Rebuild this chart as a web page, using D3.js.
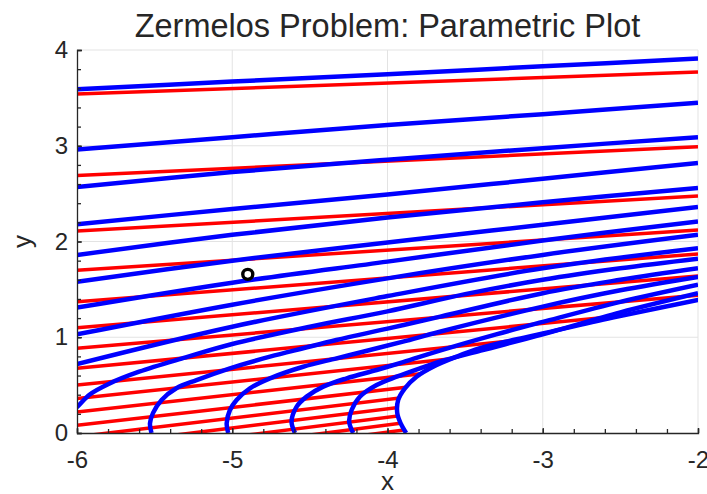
<!DOCTYPE html>
<html lang="en">
<head>
<meta charset="UTF-8">
<title>Zermelos Problem</title>
<script src="https://d3js.org/d3.v7.min.js"></script>
<style>
  body { margin: 0; background: #fff; }
  text { font-family: "Liberation Sans", Arial, sans-serif; fill: #262626; }
</style>
</head>
<body>
<div id="chart"></div>
<script>
// tick values
const xTicks = [-6, -5, -4, -3, -2];
const yTicks = [0, 1, 2, 3, 4];
const xMinor = d3.range(-6, -1.99, 0.2);
const yMinor = d3.range(0, 4.01, 0.2);

// red lines are straight: y at x = -6 and at x = -2
const redX = [-6, -2];
const redLeftY = [3.54, 2.69, 2.11, 1.70, 1.37, 1.10, 0.885, 0.675, 0.50, 0.36, 0.22, 0.08,
                  -0.039, -0.148, -0.246, -0.336, -0.421];
const redRightY = [3.77, 2.99, 2.475, 2.12, 1.87, 1.64, 1.44, 1.30, 1.16, 1.05, 0.94, 0.83,
                   0.741, 0.652, 0.574, 0.504, 0.439];

// upper blue lines, sampled at blueX
const blueX = [-6, -5, -4, -3, -2];
const blueUpper = [
  [3.59, 3.67, 3.746, 3.83, 3.91],
  [2.96, 3.09, 3.217, 3.33, 3.45],
  [2.57, 2.725, 2.855, 2.975, 3.09],
  [2.18, 2.34, 2.49, 2.655, 2.82],
  [1.86, 2.07, 2.25, 2.41, 2.56],
  [1.58, 1.80, 1.99, 2.175, 2.36],
  [1.31, 1.57, 1.79, 2.01, 2.21],
  [1.03, 1.34, 1.615, 1.86, 2.07],
  [0.72, 1.11, 1.43, 1.72, 1.93]
];

// lower blue curves that start on y = 0, as [x, y]
const blueB10 = [[-6.07, 0], [-6.085, 0.1], [-6.06, 0.2], [-6.0, 0.27], [-5.92, 0.40], [-5.8, 0.51],
  [-5.6, 0.64], [-5.3, 0.79], [-5.0, 0.93], [-4.5, 1.11], [-4.0, 1.27], [-3.5, 1.45], [-3.0, 1.60],
  [-2.5, 1.72], [-2.0, 1.82]];
const blueC1 = [[-5.52, 0], [-5.53, 0.1], [-5.51, 0.21], [-5.455, 0.345], [-5.36, 0.467], [-5.23, 0.553],
  [-5.015, 0.676], [-4.757, 0.797], [-4.543, 0.885], [-4.33, 0.971], [-4.0, 1.09], [-3.66, 1.215],
  [-3.0, 1.46], [-2.5, 1.60], [-2.0, 1.72]];
const blueC2 = [[-5.026, 0], [-5.036, 0.1], [-5.015, 0.24], [-4.972, 0.345], [-4.886, 0.467], [-4.757, 0.571],
  [-4.543, 0.692], [-4.328, 0.78], [-4.113, 0.867], [-3.9, 0.954], [-3.663, 1.058], [-3.0, 1.32],
  [-2.5, 1.49], [-2.0, 1.63]];
const blueC3 = [[-4.596, 0], [-4.618, 0.118], [-4.585, 0.275], [-4.521, 0.38], [-4.414, 0.484], [-4.263, 0.571],
  [-4.07, 0.658], [-3.899, 0.74], [-3.663, 0.86], [-3.3, 1.03], [-3.0, 1.16], [-2.5, 1.37], [-2.0, 1.55]];
const blueC4 = [[-4.221, 0], [-4.247, 0.118], [-4.231, 0.24], [-4.178, 0.379], [-4.07, 0.501], [-3.941, 0.588],
  [-3.791, 0.676], [-3.663, 0.745], [-3.4, 0.86], [-3.0, 1.03], [-2.5, 1.26], [-2.0, 1.46]];
const blueC5 = [[-3.88, 0], [-3.915, 0.1], [-3.937, 0.206], [-3.931, 0.345], [-3.888, 0.467], [-3.813, 0.588],
  [-3.706, 0.692], [-3.555, 0.797], [-3.405, 0.885], [-3.19, 0.971], [-3.0, 1.04], [-2.55, 1.205],
  [-2.0, 1.389], [-1.9, 1.42]];

// start marker
const startPoint = [-4.9, 1.657];

const width = 707, height = 494;
const margin = { top: 50, right: 9, bottom: 61, left: 77 };

const svg = d3.select("#chart").append("svg")
    .attr("width", width)
    .attr("height", height);

const x = d3.scaleLinear().domain([-6, -2]).range([margin.left, width - margin.right]);
const y = d3.scaleLinear().domain([0, 4]).range([height - margin.bottom, margin.top]);

// grid
svg.append("g").selectAll("line").data(xTicks.slice(1)).join("line")
    .attr("x1", d => x(d)).attr("x2", d => x(d))
    .attr("y1", y(0)).attr("y2", y(4))
    .attr("stroke", "#e3e3e3").attr("stroke-width", 1);
svg.append("g").selectAll("line").data(yTicks.slice(1)).join("line")
    .attr("x1", x(-6)).attr("x2", x(-2))
    .attr("y1", d => y(d)).attr("y2", d => y(d))
    .attr("stroke", "#e3e3e3").attr("stroke-width", 1);

// clip to plot area
const defs = svg.append("defs");
defs.append("clipPath").attr("id", "plotClip").append("rect")
    .attr("x", x(-6)).attr("y", y(4))
    .attr("width", x(-2) - x(-6)).attr("height", y(0) - y(4));

// red lines stop at the outermost blue curve
const limitPoly = [[-7, -1], [blueC5[0][0], -1], ...blueC5, [-1.9, 5], [-7, 5]];
defs.append("clipPath").attr("id", "redClip").append("path")
    .attr("d", d3.line().x(d => x(d[0])).y(d => y(d[1]))(limitPoly) + "Z");

const plot = svg.append("g").attr("clip-path", "url(#plotClip)");

const redG = plot.append("g").attr("clip-path", "url(#redClip)");
redG.selectAll("line").data(redLeftY).join("line")
    .attr("x1", x(redX[0]))
    .attr("y1", d => y(d))
    .attr("x2", x(redX[1]))
    .attr("y2", (d, i) => y(redRightY[i]))
    .attr("stroke", "#ff0000")
    .attr("stroke-width", 3.5);

const line = d3.line().x(d => x(d[0])).y(d => y(d[1])).curve(d3.curveCatmullRom.alpha(0.5));

const blueAll = blueUpper.map(row => row.map((v, i) => [blueX[i], v]))
    .concat([blueB10, blueC1, blueC2, blueC3, blueC4, blueC5]);

plot.append("g").selectAll("path").data(blueAll).join("path")
    .attr("d", line)
    .attr("fill", "none")
    .attr("stroke", "#0000ff")
    .attr("stroke-width", 4.5);

svg.append("circle")
    .attr("cx", x(startPoint[0]))
    .attr("cy", y(startPoint[1]))
    .attr("r", 5)
    .attr("fill", "#fff")
    .attr("stroke", "#000")
    .attr("stroke-width", 3.4);

// axes
const xAxis = svg.append("g").attr("transform", `translate(0,${y(0)})`)
    .call(d3.axisBottom(x).tickValues(xTicks).tickSize(-5).tickPadding(18).tickFormat(d3.format("d")));
svg.append("g").attr("transform", `translate(0,${y(0)})`)
    .call(d3.axisBottom(x).tickValues(xMinor).tickSize(-4).tickFormat(""))
    .call(g => g.select(".domain").remove());
const yAxis = svg.append("g").attr("transform", `translate(${x(-6)},0)`)
    .call(d3.axisLeft(y).tickValues(yTicks).tickSize(-5).tickPadding(9).tickFormat(d3.format("d")));
svg.append("g").attr("transform", `translate(${x(-6)},0)`)
    .call(d3.axisLeft(y).tickValues(yMinor).tickSize(-4).tickFormat(""))
    .call(g => g.select(".domain").remove());

svg.selectAll(".domain, .tick line").attr("stroke", "#262626").attr("stroke-width", 1.3);
svg.selectAll(".tick text")
    .attr("fill", "#262626")
    .style("font-family", "'Liberation Sans', Arial, sans-serif")
    .style("font-size", "24px");
xAxis.selectAll(".tick text").text(d => d < 0 ? "-" + Math.abs(d) : d);

// labels
svg.append("text")
    .attr("x", (x(-6) + x(-2)) / 2)
    .attr("y", 37)
    .attr("text-anchor", "middle")
    .style("font-size", "32.5px")
    .text("Zermelos Problem: Parametric Plot");

svg.append("text")
    .attr("x", (x(-6) + x(-2)) / 2)
    .attr("y", 490)
    .attr("text-anchor", "middle")
    .style("font-size", "26px")
    .text("x");

svg.append("text")
    .attr("transform", `translate(31,${(y(0) + y(4)) / 2}) rotate(-90)`)
    .attr("text-anchor", "middle")
    .style("font-size", "26px")
    .text("y");
</script>
</body>
</html>
